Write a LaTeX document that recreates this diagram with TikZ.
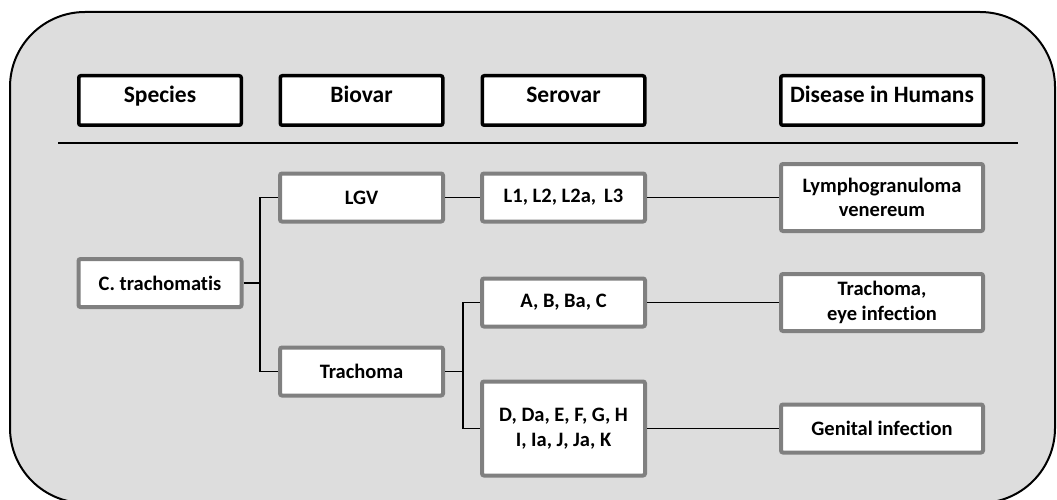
\documentclass[tikz,border=0pt]{standalone}
\usepackage{fontspec}
\setmainfont{Carlito}[Ligatures=NoCommon]
\definecolor{panelgray}{HTML}{DDDDDD}
\definecolor{boxgray}{HTML}{808080}
\begin{document}
\begin{tikzpicture}[x=1pt,y=-1pt,
  headbox/.style={draw=black, line width=3.5pt, fill=white, rounded corners=2pt,
    inner sep=0pt, minimum width=162.5pt, minimum height=49.5pt,
    text height=0.66em, text depth=0.2em,
    font=\fontsize{23.5}{28}\selectfont\bfseries},
  itembox/.style={draw=boxgray, line width=4pt, fill=white, rounded corners=2pt,
    inner sep=0pt, minimum width=163pt, minimum height=48pt, align=center,
    font=\fontsize{20.5}{24.5}\selectfont\bfseries},
  wide/.style={minimum width=202pt},
  link/.style={draw=black, line width=1.6pt}]
\useasboundingbox (0,0) rectangle (1057,500);
\clip (0,0) rectangle (1057,500);
% background panel
\draw[fill=panelgray, line width=2pt, rounded corners=75pt] (10,12) rectangle (1055,503);
% column headers
\node[headbox] (hspec) at (160,100.5) {Species};
\node[headbox] (hbio) at (361.5,100.5) {Biovar};
\node[headbox] (hser) at (563.5,100.5) {Serovar};
\node[headbox, minimum width=202.5pt] (hdis) at (882,100.5) {Disease in Humans};
\coordinate (ruleL) at (58,143);
\coordinate (ruleR) at (1018,143);
\draw[line width=1.5pt] (ruleL) -- (ruleR);
% tree
\node[itembox] (ctr) at (160,283) {C. trachomatis};
\node[itembox] (lgv) at (361.5,197.5) {LGV};
\node[itembox] (tra) at (361.5,371.5) {Trachoma};
\node[itembox] (lser) at (563.5,197.5) {L1, L2, L2a, \,L3};
\node[itembox] (abc) at (563.5,302.5) {A, B, Ba, C};
\node[itembox, minimum height=94pt] (dk) at (563.5,428.5) {D, Da, E, F, G, H\\I, Ia, J, Ja, K};
\node[itembox, wide, minimum height=67pt] (lym) at (882,197.5) {Lymphogranuloma\\venereum};
\node[itembox, wide, minimum height=57pt] (eye) at (882,302.5) {Trachoma,\\eye infection};
\node[itembox, wide] (gen) at (882,428.5) {Genital infection};
% connectors
\coordinate (j1) at (260,283);
\coordinate (j2) at (463,371.5);
\draw[link] (ctr.east) -- (j1);
\draw[link] (j1) |- (lgv.west);
\draw[link] (j1) |- (tra.west);
\draw[link] (tra.east) -- (j2);
\draw[link] (j2) |- (abc.west);
\draw[link] (j2) |- (dk.west);
\draw[link] (lgv.east) -- (lser.west);
\draw[link] (lser.east) -- (lym.west);
\draw[link] (abc.east) -- (eye.west);
\draw[link] (dk.east) -- (gen.west);
\end{tikzpicture}
\end{document}
